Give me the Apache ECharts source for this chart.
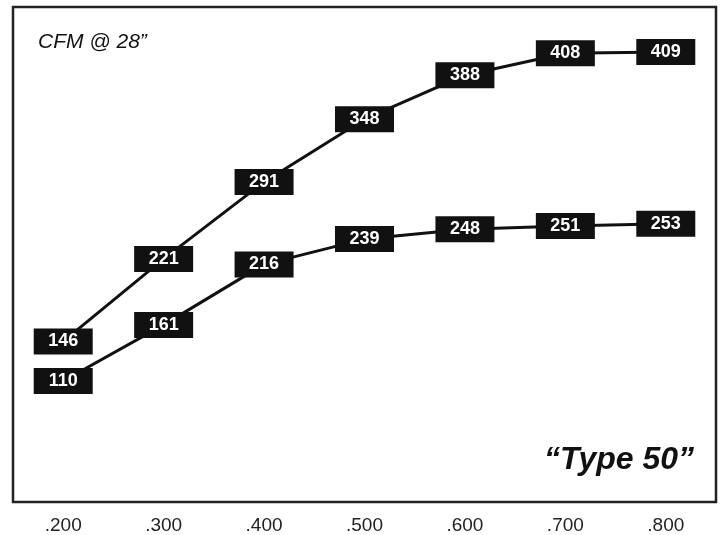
<!DOCTYPE html>
<html>
<head>
<meta charset="utf-8">
<script src="https://cdn.jsdelivr.net/npm/echarts@6/dist/echarts.min.js"></script>
<style>html,body{margin:0;padding:0;background:#fff}#c{width:724px;height:535px}</style>
</head>
<body>
<div id="c"></div>
<script>
var categories = ['.200', '.300', '.400', '.500', '.600', '.700', '.800'];
var upperSeries = [146, 221, 291, 348, 388, 408, 409];
var lowerSeries = [110, 161, 216, 239, 248, 251, 253];
var unitLabel = 'CFM @ 28\u201d';
var modelLabel = '\u201cType 50\u201d';

var chart = echarts.init(document.getElementById('c'), null, {renderer: 'canvas'});
function mkSeries(data) {
  return {
    type: 'line',
    data: data,
    symbol: 'rect',
    symbolSize: [59, 26],
    itemStyle: {color: '#111111'},
    lineStyle: {color: '#111111', width: 3},
    label: {
      show: true,
      position: 'inside',
      color: '#ffffff',
      fontFamily: 'Liberation Sans, Arial, sans-serif',
      fontWeight: 'bold',
      fontSize: 18
    },
    animation: false,
    z: 3
  };
}
chart.setOption({
  animation: false,
  grid: {left: 13, right: 8, top: 7, bottom: 33, show: true, borderColor: '#222', borderWidth: 2.5, backgroundColor: '#fff'},
  xAxis: {
    type: 'category',
    data: categories,
    boundaryGap: true,
    axisLine: {show: false},
    axisTick: {show: false},
    axisLabel: {color: '#222', fontSize: 19, margin: 14, fontFamily: 'Liberation Sans, Arial, sans-serif'}
  },
  yAxis: {
    type: 'value',
    min: 0, max: 450,
    show: false,
    splitLine: {show: false}
  },
  graphic: [
    {type: 'text', left: 38, top: 32, style: {text: unitLabel, fill: '#111', font: 'italic 21px "Liberation Sans", Arial, sans-serif'}},
    {type: 'text', right: 30, top: 444, style: {text: modelLabel, fill: '#111', font: 'italic bold 32px "Liberation Sans", Arial, sans-serif'}}
  ],
  series: [mkSeries(upperSeries), mkSeries(lowerSeries)]
});
</script>
</body>
</html>
